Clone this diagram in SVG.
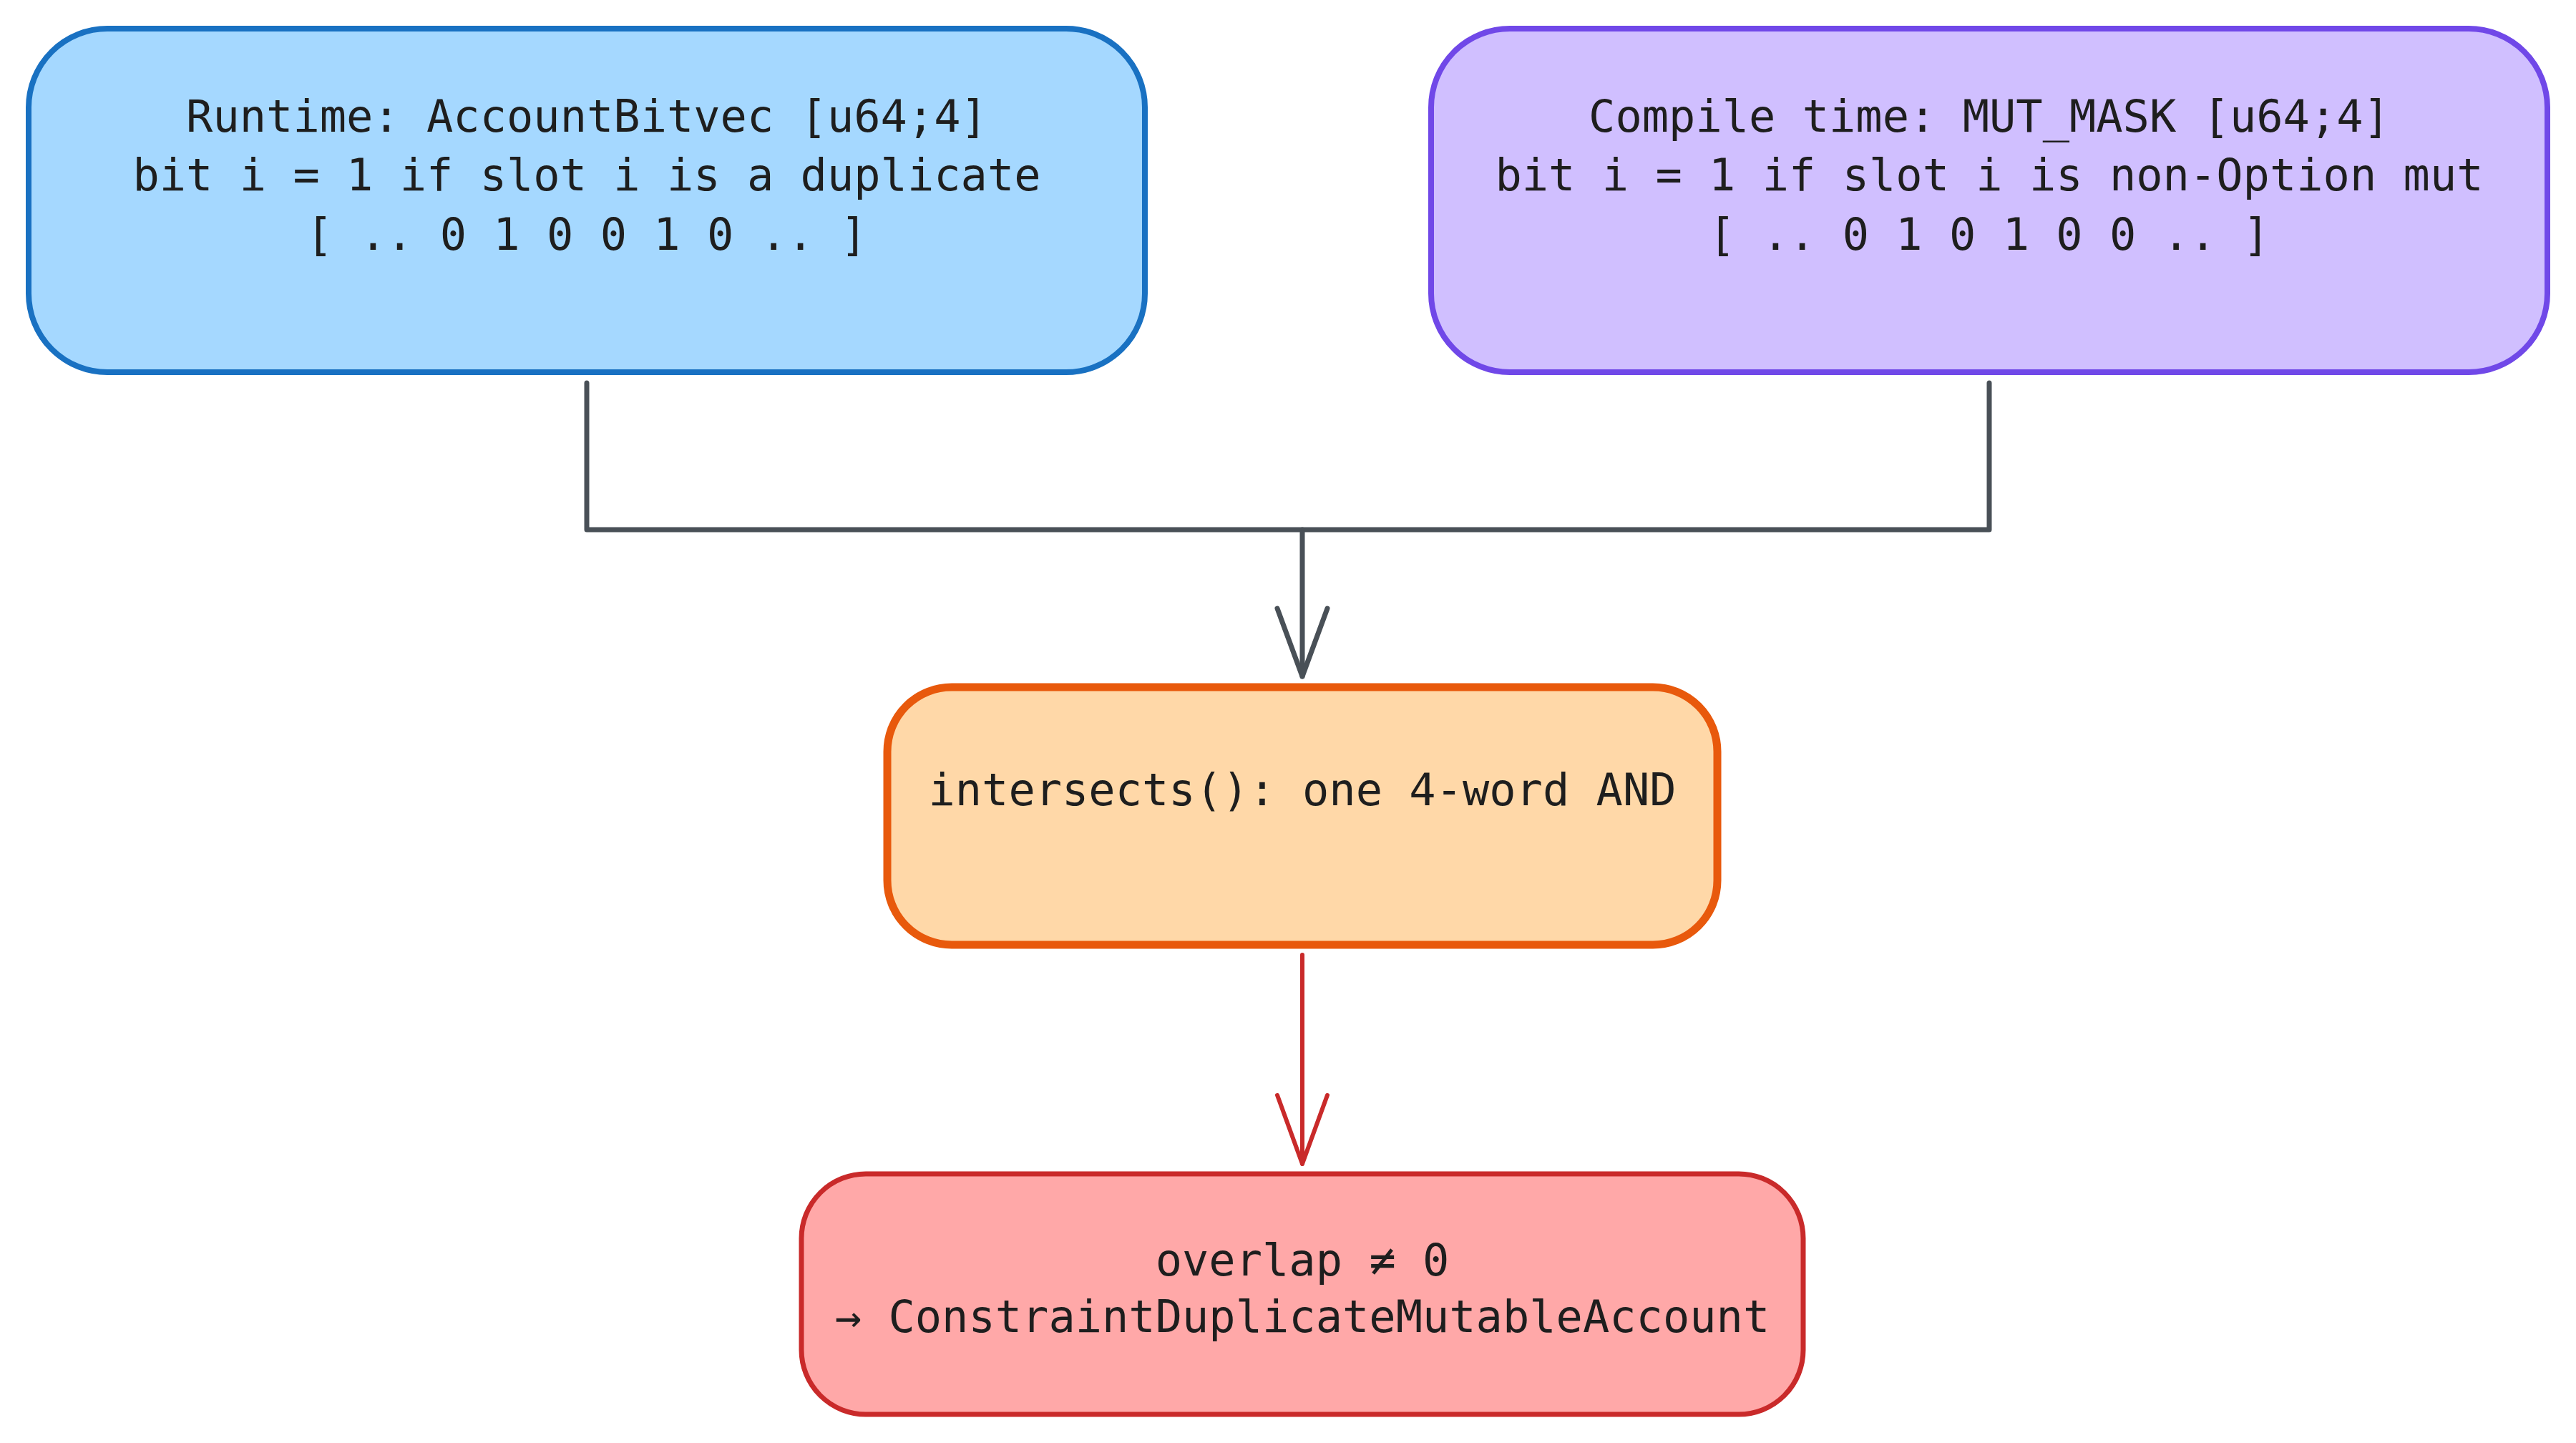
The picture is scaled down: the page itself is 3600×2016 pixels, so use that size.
<svg xmlns="http://www.w3.org/2000/svg" width="3600" height="2016" viewBox="0 0 3600 2016">
<defs>
<style>
.t{font-family:"DejaVu Sans Mono","Liberation Mono",monospace;font-size:62px;fill:#1e1e1e;text-anchor:middle}
.e{fill:none;stroke-linecap:round;stroke-linejoin:round}
.g{stroke:#495057;stroke-width:7}
.r{stroke:#c92a2a;stroke-width:6}
</style>
<marker id="ag" viewBox="0 0 80 110" refX="40" refY="105" markerWidth="80" markerHeight="110" markerUnits="userSpaceOnUse" orient="auto-start-reverse">
<path d="M5 5 L40 105 L75 5" fill="none" stroke="#495057" stroke-width="7" stroke-linecap="round" stroke-linejoin="round"/>
</marker>
</defs>
<rect width="3600" height="2016" fill="#ffffff"/>
<g id="connectors">
<path class="e g" d="M820 535 V740 H2780 V535"/>
<path class="e g" d="M1820 740 V945"/>
<path class="e g" d="M1785 850 L1820 945 L1855 850"/>
<path class="e r" d="M1820 1334 V1626"/>
<path class="e r" d="M1785 1530 L1820 1626 L1855 1530"/>
</g>
<g id="runtime">
<rect x="40" y="40" width="1560" height="480" rx="110" ry="110" fill="#a5d8ff" stroke="#1971c2" stroke-width="8"/>
<text class="t" x="820" y="184">Runtime: AccountBitvec [u64;4]</text>
<text class="t" x="820" y="266">bit i = 1 if slot i is a duplicate</text>
<text class="t" x="820" y="349">[ .. 0 1 0 0 1 0 .. ]</text>
</g>
<g id="compile">
<rect x="2000" y="40" width="1560" height="480" rx="110" ry="110" fill="#d0bfff" stroke="#7048e8" stroke-width="8"/>
<text class="t" x="2780" y="184">Compile time: MUT_MASK [u64;4]</text>
<text class="t" x="2780" y="266">bit i = 1 if slot i is non-Option mut</text>
<text class="t" x="2780" y="349">[ .. 0 1 0 1 0 0 .. ]</text>
</g>
<g id="intersects">
<rect x="1240" y="960" width="1160" height="360" rx="90" ry="90" fill="#ffd8a8" stroke="#e8590c" stroke-width="11"/>
<text class="t" x="1820" y="1125">intersects(): one 4-word AND</text>
</g>
<g id="error">
<rect x="1120" y="1640" width="1400" height="336" rx="90" ry="90" fill="#ffa8a8" stroke="#c92a2a" stroke-width="7"/>
<text class="t" x="1820" y="1782">overlap ≠ 0</text>
<text class="t" x="1820" y="1861">→ ConstraintDuplicateMutableAccount</text>
</g>
</svg>
